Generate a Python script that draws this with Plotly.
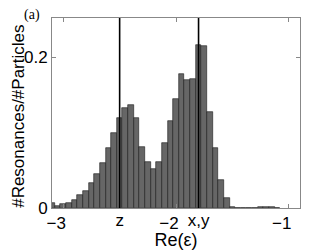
import plotly.graph_objects as go

# histogram bin centres (width 0.05) and heights
bin_centers = [-3.10, -3.05, -3.00, -2.95, -2.90, -2.85, -2.80, -2.75, -2.70, -2.65,
               -2.60, -2.55, -2.50, -2.45, -2.40, -2.35, -2.30, -2.25, -2.20, -2.15,
               -2.10, -2.05, -2.00, -1.95, -1.90, -1.85, -1.80, -1.75, -1.70, -1.65,
               -1.60, -1.55, -1.50, -1.45, -1.40, -1.35, -1.30, -1.25, -1.20, -1.15,
               -1.10]
fractions = [0.0062, 0.0026, 0.0053, 0.0066, 0.0106, 0.0168, 0.0225, 0.0331, 0.045, 0.060,
             0.080, 0.0998, 0.1196, 0.132, 0.1364, 0.1196, 0.0808, 0.061, 0.0517, 0.061,
             0.0865, 0.1148, 0.1444, 0.1775, 0.1704, 0.1717, 0.2168, 0.2155, 0.127, 0.079,
             0.0375, 0.0132, 0.0015, 0.0004, 0.0003, 0.0003, 0.0004, 0.0008, 0.0008, 0.0008,
             0.0005]
bin_width = 0.05

# polarisation markers
marker_pos = [-2.5, -1.8]
marker_text = ["z", "x,y"]

x_ticks = [-3, -2, -1]
x_ticktext = ["\u22123", "\u22122", "\u22121"]
y_ticks = [0, 0.2]
y_ticktext = ["0", "0.2"]

x_range = [-3.1, -0.9]
y_range = [0, 0.252]

font = "Liberation Sans, Arial, sans-serif"

fig = go.Figure()
fig.add_trace(go.Bar(
    x=bin_centers, y=fractions, width=bin_width,
    marker=dict(color="#666666", line=dict(color="#1a1a1a", width=0.6)),
    showlegend=False, hoverinfo="skip",
))
for v in marker_pos:
    fig.add_trace(go.Scatter(
        x=[v, v], y=y_range, mode="lines",
        line=dict(color="black", width=1.6),
        showlegend=False, hoverinfo="skip",
    ))

# invisible trace so the second x axis is drawn
fig.add_trace(go.Scatter(x=marker_pos, y=[0, 0], xaxis="x2", mode="markers",
                         marker=dict(opacity=0), showlegend=False, hoverinfo="skip"))

# page body has an 8px margin, so the figure is 8px smaller on each side
fig.update_layout(
    width=324, height=242,
    margin=dict(l=44, r=32, t=10, b=42, autoexpand=False),
    paper_bgcolor="white", plot_bgcolor="white",
    font=dict(family=font, size=17, color="black"),
    bargap=0,
    xaxis=dict(
        range=x_range, tickvals=x_ticks, ticktext=x_ticktext, automargin=False,
        ticks="inside", ticklen=4, tickcolor="#888", ticklabelshift=-7,
        showline=True, linecolor="#888", linewidth=1, mirror="ticks",
        showgrid=False, zeroline=False,
        title=dict(text="Re(\u03b5)", font=dict(size=18), standoff=0),
    ),
    xaxis2=dict(
        range=x_range, overlaying="x", anchor="y", side="bottom", automargin=False,
        tickvals=marker_pos, ticktext=marker_text, ticks="",
        showline=False, showgrid=False, zeroline=False,
    ),
    yaxis=dict(
        range=y_range, tickvals=y_ticks, ticktext=y_ticktext, automargin=False,
        ticks="inside", ticklen=4, tickcolor="#888",
        showline=True, linecolor="#888", linewidth=1, mirror="ticks",
        showgrid=False, zeroline=False,
    ),
    annotations=[
        dict(text="(a)", xref="paper", yref="paper", x=-0.081, y=1.016,
             xanchor="center", yanchor="middle", showarrow=False,
             font=dict(family="Liberation Serif, Times New Roman, serif", size=14)),
        dict(text="#Resonances/#Particles", xref="paper", yref="paper",
             x=-0.133, y=0.48, xanchor="center", yanchor="middle",
             textangle=-90, showarrow=False, font=dict(size=17)),
    ],
)

fig.write_html("out.html")
